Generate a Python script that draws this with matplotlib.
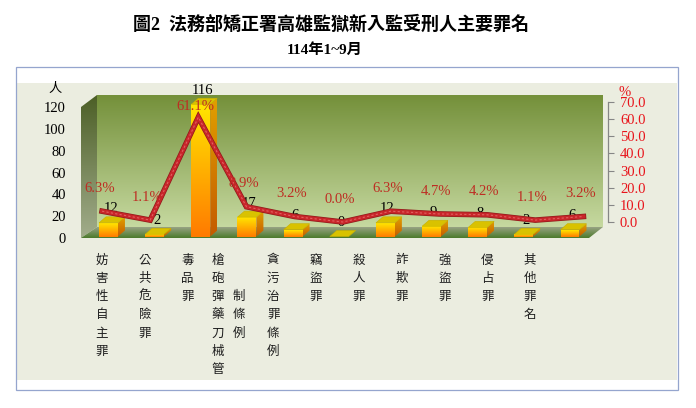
import numpy as np
import matplotlib
matplotlib.use('Agg')
import matplotlib.pyplot as plt
from matplotlib.patches import Polygon, Rectangle
from matplotlib.colors import to_rgb
import matplotlib.patheffects as pe

# ---------------- data ----------------
categories = ['妨害性自主罪', '公共危險罪', '毒品罪', '槍砲彈藥刀械管制條例', '貪污治罪條例',
              '竊盜罪', '殺人罪', '詐欺罪', '強盜罪', '侵占罪', '其他罪名']
counts = [12, 2, 116, 17, 6, 0, 12, 9, 8, 2, 6]
percents = [6.3, 1.1, 61.1, 8.9, 3.2, 0.0, 6.3, 4.7, 4.2, 1.1, 3.2]
count_ticks = [0, 20, 40, 60, 80, 100, 120]
pct_ticks = [0, 10, 20, 30, 40, 50, 60, 70]
title = '圖2  法務部矯正署高雄監獄新入監受刑人主要罪名'
subtitle = '114年1~9月'
count_unit = '人'
pct_unit = '%'

# ---------------- layout helpers ----------------
W, H = 696, 408
fig = plt.figure(figsize=(W / 100, H / 100), dpi=100)
fig.patch.set_facecolor('white')

SERIF = ['Liberation Serif', 'Noto Sans CJK TC']
CJK = ['Noto Sans CJK TC', 'DejaVu Sans']


def box(x0, y0, x1, y1):
    """pixel box (top-left origin) -> figure fraction rect"""
    return [x0 / W, 1 - y1 / H, (x1 - x0) / W, (y1 - y0) / H]


def grad_poly(ax, verts, c_top, c_bot, zorder, edge=None):
    poly = Polygon(verts, closed=True, fc='none', ec=edge if edge else 'none',
                   lw=0.5, zorder=zorder + 0.1, clip_on=False)
    ax.add_patch(poly)
    xs = [v[0] for v in verts]
    ys = [v[1] for v in verts]
    g = np.linspace(0, 1, 256)[:, None, None]
    img = np.array(to_rgb(c_top))[None, None, :] * (1 - g) + np.array(to_rgb(c_bot))[None, None, :] * g
    im = ax.imshow(img, extent=[min(xs), max(xs), min(ys), max(ys)], origin='upper',
                   aspect='auto', zorder=zorder, interpolation='bilinear')
    im.set_clip_path(poly)
    return poly


# ---------------- background / frame ----------------
bg = fig.add_axes([0, 0, 1, 1], zorder=0)
bg.axis('off')


def P(x, y):
    return (x, H - y)


bg.add_patch(Rectangle(P(17, 380), 660, 297, fc='#EBEDE0', ec='none', zorder=1))
bg.add_patch(Rectangle(P(16, 390), 662, 323, fill=False, ec='#95A5CE', lw=0.9, zorder=2))

# 3-D walls
grad_poly(bg, [P(97, 95), P(603, 95), P(603, 227), P(97, 227)], '#74903A', '#C6D9A0', 3)
grad_poly(bg, [P(81, 107), P(97, 95), P(97, 227), P(81, 238)], '#4C5F26', '#A2AD8C', 3)
grad_poly(bg, [P(81, 238), P(97, 227), P(603, 227), P(589, 238)], '#98A384', '#4B7A2B', 3)

bg.text(*P(331, 25), title, ha='center', va='center', fontsize=13, fontweight='bold',
        family=SERIF, color='black')
bg.text(*P(325, 50), subtitle, ha='center', va='center', fontsize=11, fontweight='bold',
        family=SERIF, color='black')
bg.text(*P(55, 88), count_unit, ha='center', va='center', fontsize=9.5, family=CJK, color='black')
bg.text(*P(625, 92), pct_unit, ha='center', va='center', fontsize=10.5, family=SERIF, color='#E8141B')
bg.set_xlim(0, W)
bg.set_ylim(0, H)

# ---------------- left (count) tick axis ----------------
axt = fig.add_axes(box(85.4, 107, 593, 238), zorder=1)
axt.patch.set_alpha(0)
axt.set_ylim(0, 120)
axt.set_xticks([])
axt.set_yticks(count_ticks)
axt.set_yticklabels([str(v) for v in count_ticks], family=SERIF, fontsize=10.5)
axt.tick_params(axis='y', length=0, pad=14)
for s in axt.spines.values():
    s.set_visible(False)

# ---------------- bars (3-D look) ----------------
BAR_PX = 1.14
YMAX = 130
ax = fig.add_axes(box(85.4, 236.5 - YMAX * BAR_PX, 593.1, 236.5), zorder=2)
ax.patch.set_alpha(0)
ax.axis('off')
ax.set_xlim(-0.5, 10.5)
ax.set_ylim(0, YMAX)
x = np.arange(len(categories))
bw = 0.41
bars = ax.bar(x, counts, width=bw, color='none', edgecolor='none', zorder=3)
ax.set_xlim(-0.5, 10.5)
ax.set_ylim(0, YMAX)

dx, dy = 7, 6  # depth in pixels
inv = ax.transData.inverted()
for b, c in zip(bars, counts):
    x0, x1 = b.get_x(), b.get_x() + b.get_width()
    (dxl, dyb), (dxr, dyt) = ax.transData.transform([(x0, 0), (x1, c)])
    side = inv.transform([(dxr, dyb), (dxr + dx, dyb + dy), (dxr + dx, dyt + dy), (dxr, dyt)])
    top = inv.transform([(dxl, dyt), (dxr, dyt), (dxr + dx, dyt + dy), (dxl + dx, dyt + dy)])
    if c > 0:
        grad_poly(ax, [(x0, 0), (x1, 0), (x1, c), (x0, c)], '#FFE600', '#FF7A00', 4)
        grad_poly(ax, side, '#E0A000', '#C45A00', 4)
    ax.add_patch(Polygon(top, closed=True, fc='#D9C200', ec='#C8B000', lw=0.4, zorder=5, clip_on=False))
    ax.annotate(str(c), (b.get_x() + b.get_width() / 2, c), xytext=(1.5, 10),
                textcoords='offset points', ha='center', va='center', fontsize=10.5,
                family=SERIF, color='black', zorder=6, annotation_clip=False)
ax.set_xlim(-0.5, 10.5)
ax.set_ylim(0, YMAX)

# ---------------- line (percent) axis ----------------
ax2 = fig.add_axes(box(78, 102, 607.5, 222), zorder=3)
ax2.patch.set_alpha(0)
ax2.set_xlim(-0.5, 10.5)
ax2.set_ylim(0, 70)
ax2.plot(x, percents, color='#C8262A', lw=3.0, zorder=5, clip_on=False,
         solid_joinstyle='miter',
         path_effects=[pe.Stroke(linewidth=4.0, foreground='#8E1A1A'), pe.Normal()])
ax2.plot(x, percents, color='#E06060', lw=0.8, ls=(0, (2, 2)), zorder=6, clip_on=False)
pmax = max(percents)
for i, p in enumerate(percents):
    off = 8 if p == pmax else 16.5
    ax2.annotate(f'{p:.1f}%', (i, p), xytext=(-2, off), textcoords='offset points',
                 ha='center', va='center', fontsize=10.5, family=SERIF, color='#BE2D23',
                 zorder=7, annotation_clip=False)
ax2.set_xticks([])
ax2.yaxis.tick_right()
ax2.set_yticks(pct_ticks)
ax2.set_yticklabels([f'{v:.1f}' for v in pct_ticks], family=SERIF, fontsize=10.5, color='#E8141B')
ax2.tick_params(axis='y', direction='out', length=4, width=0.8, color='#868686', pad=5)
for k, s in ax2.spines.items():
    s.set_visible(k == 'right')
ax2.spines['right'].set_color('#868686')
ax2.spines['right'].set_linewidth(0.9)

# ---------------- vertical category labels ----------------
ROWS = 7
axl = fig.add_axes(box(80.6, 250.85, 551.4, 397.25), zorder=2)
axl.axis('off')
axl.set_xlim(-0.5, 10.5)
axl.set_ylim(ROWS + 0.5, -0.5)
for i, name in enumerate(categories):
    cols = [name[j:j + ROWS] for j in range(0, len(name), ROWS)]
    n = len(cols)
    for ci, col in enumerate(cols):
        xo = i + (ci - (n - 1) / 2) * 0.5 - (0.05 if n > 1 else 0)
        start = 0 if ci == 0 else (len(cols[0]) - len(col)) // 2
        for r, ch in enumerate(col):
            axl.text(xo, start + r, ch, ha='center', va='center', fontsize=9,
                     family=CJK, color='#1E1E1E')

fig.savefig('out.png', dpi=100, facecolor='white')
